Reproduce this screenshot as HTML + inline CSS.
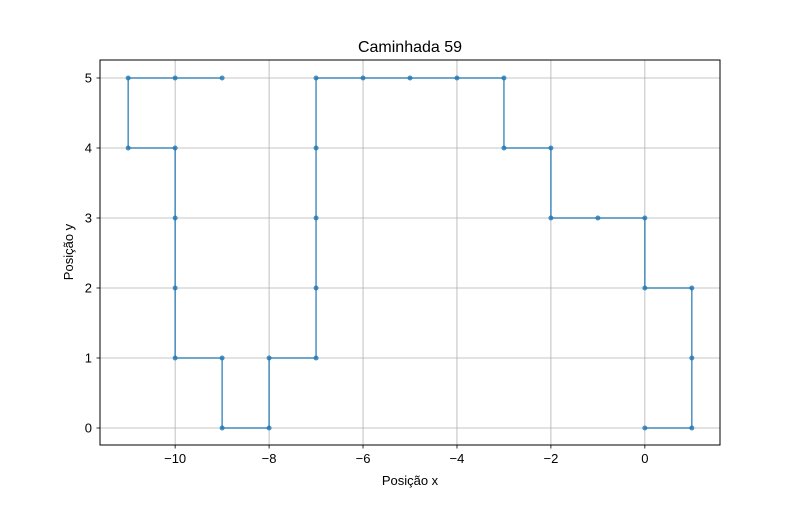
<!DOCTYPE html>
<html><head><meta charset="utf-8"><style>
body{margin:0;background:#fff;font-family:"Liberation Sans","DejaVu Sans",sans-serif;}
</style></head><body>
<svg id="chart" width="800" height="500" xmlns="http://www.w3.org/2000/svg">
<rect width="800" height="500" fill="#fff"/>
<g id="grid"></g>
<g id="ticks"></g>
<g id="series"></g>
<rect x="100" y="60" width="620" height="385" fill="none" stroke="#000" stroke-width="1"/>
<text x="410" y="52" text-anchor="middle" font-size="16">Caminhada 59</text>
<text x="410" y="485" text-anchor="middle" font-size="13">Posição x</text>
<text x="73" y="252" text-anchor="middle" font-size="13" transform="rotate(-90 73 252)">Posição y</text>
</svg>
<script>
const xs = [0,1,1,1,0,0,-1,-2,-2,-3,-3,-4,-5,-6,-7,-7,-7,-7,-7,-8,-8,-9,-9,-10,-10,-10,-10,-11,-11,-10,-9];
const ys = [0,0,1,2,2,3,3,3,4,4,5,5,5,5,5,4,3,2,1,1,0,0,1,1,2,3,4,4,5,5,5];
const xTicks = [-10,-8,-6,-4,-2,0];
const yTicks = [0,1,2,3,4,5];
const X0=100,X1=720,Y0=445,Y1=60,xmin=-11.6,xmax=1.6,ymin=-0.243,ymax=5.257;
const sx=v=>X0+(v-xmin)/(xmax-xmin)*(X1-X0);
const sy=v=>Y0-(v-ymin)/(ymax-ymin)*(Y0-Y1);
const NS="http://www.w3.org/2000/svg";
const mk=(t,a,p)=>{const e=document.createElementNS(NS,t);for(const k in a)e.setAttribute(k,a[k]);p.appendChild(e);return e;};
const grid=document.getElementById('grid'),ticks=document.getElementById('ticks'),ser=document.getElementById('series');
xTicks.forEach(v=>{
 const g=mk('line',{x1:sx(v),x2:sx(v),y1:Y1,y2:Y0,stroke:'#b0b0b0','stroke-width':0.8},grid);
 
 
 mk('line',{x1:sx(v),x2:sx(v),y1:Y0,y2:Y0+3.5,stroke:'#000','stroke-width':0.8},ticks);
 const t=mk('text',{x:sx(v),y:Y0+18,'text-anchor':'middle','font-size':13},ticks);
 t.textContent=v<0?'\u2212'+(-v):v;
 
 
});
yTicks.forEach(v=>{
 const g=mk('line',{x1:X0,x2:X1,y1:sy(v),y2:sy(v),stroke:'#b0b0b0','stroke-width':0.8},grid);
 
 
 mk('line',{x1:X0-3.5,x2:X0,y1:sy(v),y2:sy(v),stroke:'#000','stroke-width':0.8},ticks);
 const t=mk('text',{x:X0-8,y:sy(v)+4.5,'text-anchor':'end','font-size':13},ticks);
 t.textContent=v;
 
 
});
const pl=mk('polyline',{points:xs.map((x,i)=>sx(x)+','+sy(ys[i])).join(' '),fill:'none',stroke:'#1f77b4','stroke-width':1.5,opacity:0.8},ser);


xs.forEach((x,i)=>{
 const c=mk('circle',{cx:sx(x),cy:sy(ys[i]),r:2.5,fill:'#1f77b4',opacity:0.8},ser);
 
 
});
</script>
</body></html>
